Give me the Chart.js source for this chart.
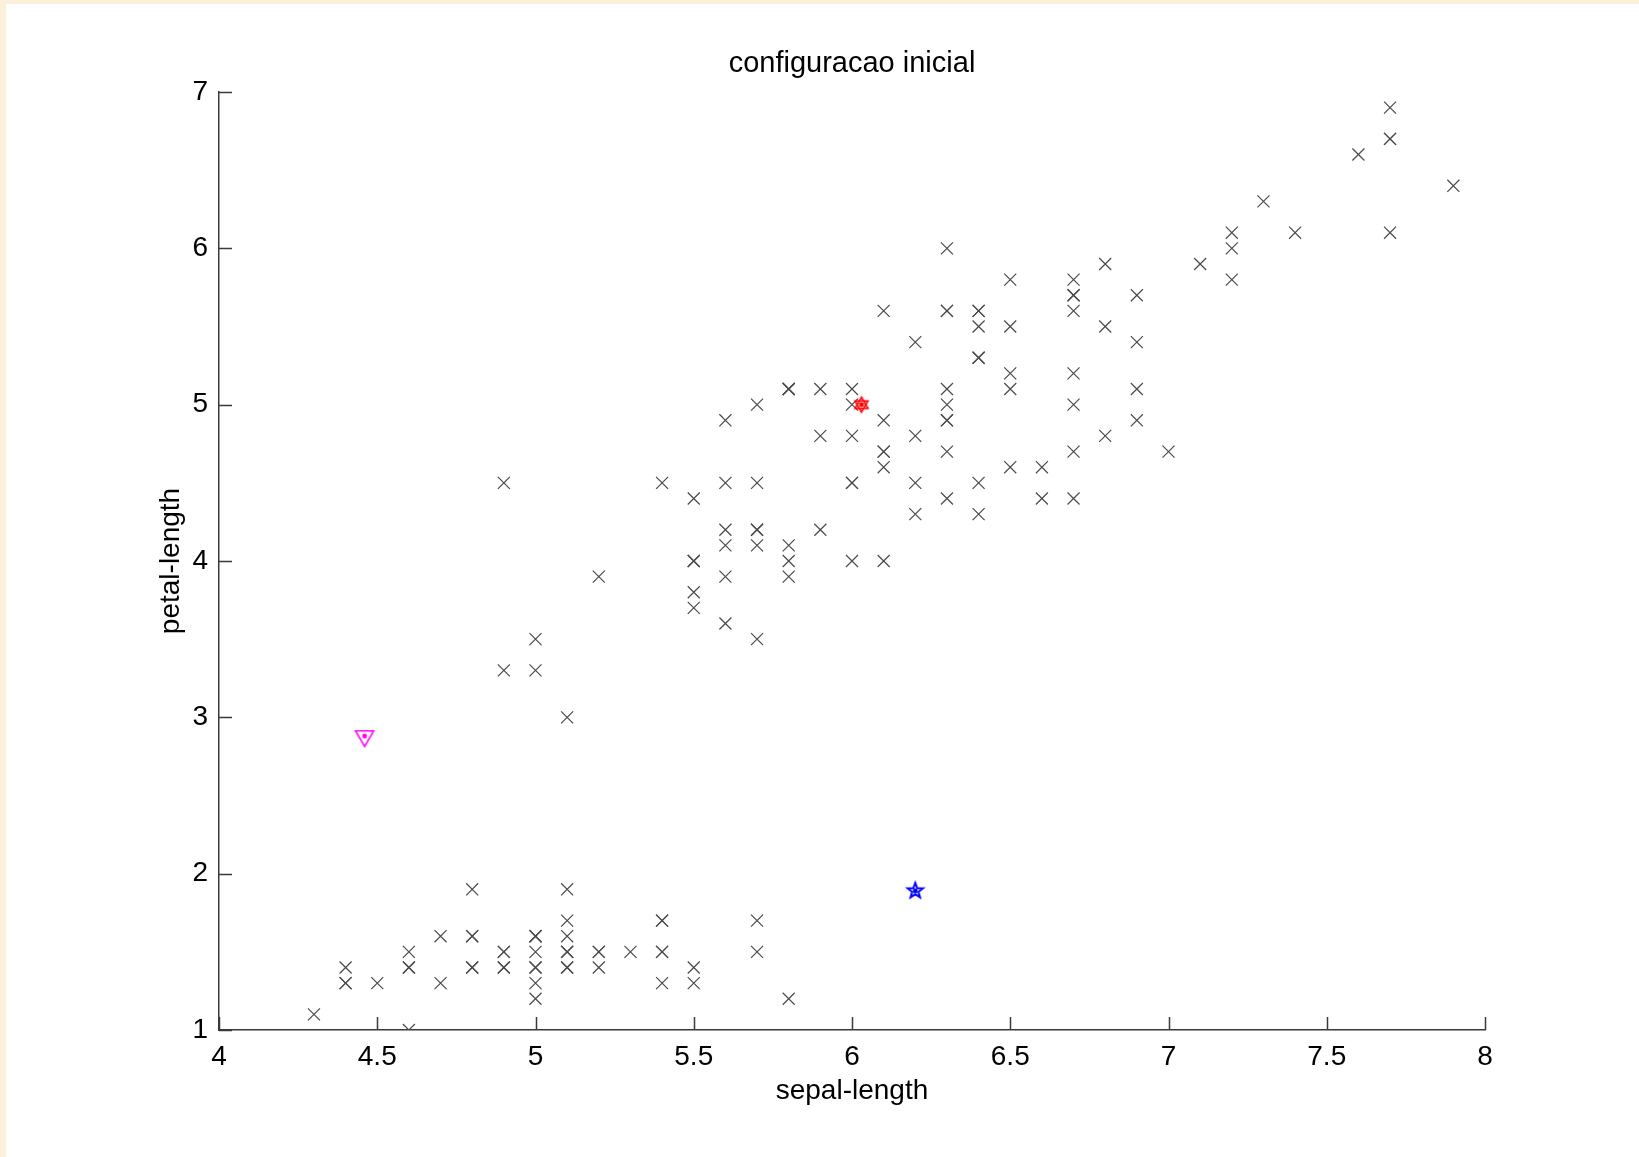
<!DOCTYPE html>
<html>
<head>
<meta charset="utf-8">
<script src="https://cdn.jsdelivr.net/npm/chart.js@4.4.1/dist/chart.umd.min.js"></script>
<style>
  html, body { margin: 0; padding: 0; background: #fff; }
  #grafico { display: block; }
</style>
</head>
<body>
<canvas id="grafico" width="1639" height="1157"></canvas>
<script>
// datos iris: largo del sepalo y largo del petalo
const sepalLength = [
  5.1,4.9,4.7,4.6,5.0,5.4,4.6,5.0,4.4,4.9,5.4,4.8,4.8,4.3,5.8,5.7,5.4,5.1,5.7,5.1,
  5.4,5.1,4.6,5.1,4.8,5.0,5.0,5.2,5.2,4.7,4.8,5.4,5.2,5.5,4.9,5.0,5.5,4.9,4.4,5.1,
  5.0,4.5,4.4,5.0,5.1,4.8,5.1,4.6,5.3,5.0,
  7.0,6.4,6.9,5.5,6.5,5.7,6.3,4.9,6.6,5.2,5.0,5.9,6.0,6.1,5.6,6.7,5.6,5.8,6.2,5.6,
  5.9,6.1,6.3,6.1,6.4,6.6,6.8,6.7,6.0,5.7,5.5,5.5,5.8,6.0,5.4,6.0,6.7,6.3,5.6,5.5,
  5.5,6.1,5.8,5.0,5.6,5.7,5.7,6.2,5.1,5.7,
  6.3,5.8,7.1,6.3,6.5,7.6,4.9,7.3,6.7,7.2,6.5,6.4,6.8,5.7,5.8,6.4,6.5,7.7,7.7,6.0,
  6.9,5.6,7.7,6.3,6.7,7.2,6.2,6.1,6.4,7.2,7.4,7.9,6.4,6.3,6.1,7.7,6.3,6.4,6.0,6.9,
  6.7,6.9,5.8,6.8,6.7,6.7,6.3,6.5,6.2,5.9
];
const petalLength = [
  1.4,1.4,1.3,1.5,1.4,1.7,1.4,1.5,1.4,1.5,1.5,1.6,1.4,1.1,1.2,1.5,1.3,1.4,1.7,1.5,
  1.7,1.5,1.0,1.7,1.9,1.6,1.6,1.5,1.4,1.6,1.6,1.5,1.5,1.4,1.5,1.2,1.3,1.4,1.3,1.5,
  1.3,1.3,1.3,1.6,1.9,1.4,1.6,1.4,1.5,1.4,
  4.7,4.5,4.9,4.0,4.6,4.5,4.7,3.3,4.6,3.9,3.5,4.2,4.0,4.7,3.6,4.4,4.5,4.1,4.5,3.9,
  4.8,4.0,4.9,4.7,4.3,4.4,4.8,5.0,4.5,3.5,3.8,3.7,3.9,5.1,4.5,4.5,4.7,4.4,4.1,4.0,
  4.4,4.6,4.0,3.3,4.2,4.2,4.2,4.3,3.0,4.1,
  6.0,5.1,5.9,5.6,5.8,6.6,4.5,6.3,5.8,6.1,5.1,5.3,5.5,5.0,5.1,5.3,5.5,6.7,6.9,5.0,
  5.7,4.9,6.7,4.9,5.7,6.0,4.8,4.9,5.6,5.8,6.1,6.4,5.6,5.1,5.6,6.1,5.6,5.5,4.8,5.4,
  5.6,5.1,5.1,5.9,5.7,5.2,5.0,5.2,5.4,5.1
];

// centros iniciales (triangulo magenta, hexagrama rojo, estrella azul)
const centroX = [4.46, 6.03, 6.20];
const centroY = [2.88, 5.00, 1.89];

const xTicks = [4, 4.5, 5, 5.5, 6, 6.5, 7, 7.5, 8];
const yTicks = [1, 2, 3, 4, 5, 6, 7];

const fuente = "'Liberation Sans', Arial, Helvetica, sans-serif";
const colorEje = '#3a3a3a';

// marcadores tipo matlab dibujados en canvas chicos
function marcador(tipo, color) {
  const c = document.createElement('canvas');
  c.width = 24; c.height = 24;
  const g = c.getContext('2d');
  g.strokeStyle = color; g.fillStyle = color;
  g.lineWidth = 1.6;
  const cx = 12, cy = 12;
  if (tipo === 'v') {
    const r = 10.4;
    g.beginPath();
    for (let i = 0; i < 3; i++) {
      const a = Math.PI / 2 + i * 2 * Math.PI / 3;
      const px = cx + r * Math.cos(a), py = cy + r * Math.sin(a);
      i === 0 ? g.moveTo(px, py) : g.lineTo(px, py);
    }
    g.closePath(); g.stroke();
  } else if (tipo === 'h') {
    const r = 7.5;
    for (let t = 0; t < 2; t++) {
      g.beginPath();
      for (let i = 0; i < 3; i++) {
        const a = -Math.PI / 2 + t * Math.PI + i * 2 * Math.PI / 3;
        const px = cx + r * Math.cos(a), py = cy + r * Math.sin(a);
        i === 0 ? g.moveTo(px, py) : g.lineTo(px, py);
      }
      g.closePath(); g.stroke();
    }
  } else if (tipo === 'p') {
    const ro = 8, ri = 3.3;
    g.beginPath();
    for (let i = 0; i < 10; i++) {
      const r = i % 2 === 0 ? ro : ri;
      const a = -Math.PI / 2 + i * Math.PI / 5;
      const px = cx + r * Math.cos(a), py = cy + r * Math.sin(a);
      i === 0 ? g.moveTo(px, py) : g.lineTo(px, py);
    }
    g.closePath(); g.lineWidth = 2; g.stroke();
  }
  g.beginPath(); g.arc(cx, cy, 2.4, 0, Math.PI * 2); g.fill();
  return c;
}

const estilos = [marcador('v', '#ff00ff'), marcador('h', '#ff0000'), marcador('p', '#0000ff')];

// fondo crema del borde y blanco adentro
const fondo = {
  id: 'fondo',
  beforeDraw(chart) {
    const ctx = chart.ctx;
    ctx.save();
    ctx.fillStyle = '#fbf1da';
    ctx.fillRect(0, 0, chart.width, chart.height);
    ctx.fillStyle = '#ffffff';
    ctx.fillRect(6, 4, chart.width - 6, chart.height - 4);
    ctx.restore();
  }
};

// ticks hacia adentro como en matlab
const ticksAdentro = {
  id: 'ticksAdentro',
  afterDatasetsDraw(chart) {
    const ctx = chart.ctx, a = chart.chartArea;
    const sx = chart.scales.x, sy = chart.scales.y;
    ctx.save();
    ctx.strokeStyle = colorEje;
    ctx.lineWidth = 1.5;
    ctx.beginPath();
    sx.ticks.forEach(t => {
      const px = Math.round(sx.getPixelForValue(t.value)) + 0.5;
      ctx.moveTo(px, a.bottom); ctx.lineTo(px, a.bottom - 13);
    });
    sy.ticks.forEach(t => {
      const py = Math.round(sy.getPixelForValue(t.value)) + 0.5;
      ctx.moveTo(a.left, py); ctx.lineTo(a.left + 13, py);
    });
    ctx.stroke();
    ctx.restore();
  }
};

new Chart(document.getElementById('grafico'), {
  type: 'scatter',
  data: {
    datasets: [
      {
        data: centroX.map((x, i) => ({ x: x, y: centroY[i] })),
        pointStyle: estilos,
        order: 0
      },
      {
        data: sepalLength.map((x, i) => ({ x: x, y: petalLength[i] })),
        pointStyle: 'crossRot',
        pointRadius: 8.5,
        borderColor: '#4a4a4a',
        borderWidth: 1.2,
        order: 1
      }
    ]
  },
  options: {
    responsive: false,
    animation: false,
    layout: { padding: { left: 0, right: 154, top: 0, bottom: 0 } },
    plugins: {
      legend: { display: false },
      tooltip: { enabled: false },
      title: {
        display: true,
        text: 'configuracao inicial',
        color: '#000',
        fullSize: false,
        font: { family: fuente, size: 29, weight: 'normal', lineHeight: 1.2 },
        padding: { top: 47, bottom: 10.2 }
      }
    },
    scales: {
      x: {
        type: 'linear',
        min: 4, max: 8,
        afterBuildTicks: s => { s.ticks = xTicks.map(v => ({ value: v })); },
        afterFit: s => { s.height = 127; },
        grid: { display: false, drawTicks: false },
        border: { display: true, color: colorEje, width: 1.5 },
        ticks: {
          color: '#000', padding: 10, maxRotation: 0,
          font: { family: fuente, size: 28 },
          callback: v => String(v)
        },
        title: {
          display: true, text: 'sepal-length', color: '#000',
          font: { family: fuente, size: 28, lineHeight: 1.2 },
          padding: { top: 0, bottom: 49 }
        }
      },
      y: {
        type: 'linear',
        min: 1, max: 7,
        afterBuildTicks: s => { s.ticks = yTicks.map(v => ({ value: v })); },
        afterFit: s => { s.width = 219; },
        grid: { display: false, drawTicks: false },
        border: { display: true, color: colorEje, width: 1.5 },
        ticks: {
          color: '#000', padding: 11,
          font: { family: fuente, size: 28 },
          callback: v => String(v)
        },
        title: {
          display: true, text: 'petal-length', color: '#000',
          font: { family: fuente, size: 28, lineHeight: 1.2 },
          padding: { top: 154, bottom: 0 }
        }
      }
    }
  },
  plugins: [fondo, ticksAdentro]
});
</script>
</body>
</html>
